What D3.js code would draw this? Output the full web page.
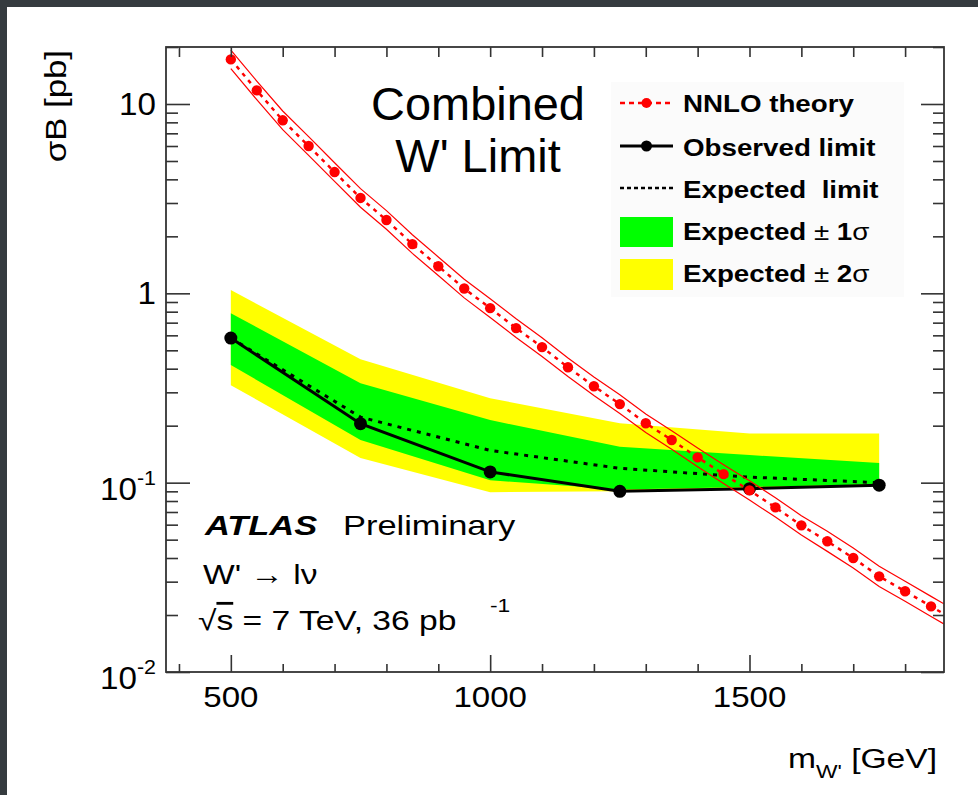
<!DOCTYPE html>
<html><head><meta charset="utf-8">
<script src="https://cdn.jsdelivr.net/npm/d3@7"></script>
<style>
html,body{margin:0;padding:0;background:#fff;}
svg{display:block;font-family:"Liberation Sans",Arial,Helvetica,sans-serif;}
</style></head><body>
<svg id="chart" width="978" height="795"></svg>
<script>
// ---------------- data ----------------
const massPoints   = [500, 750, 1000, 1250, 1500, 1750];
const observedLimit = [0.58, 0.205, 0.114, 0.090, 0.093, 0.097];
const expectedLimit = [0.58, 0.222, 0.148, 0.119, 0.107, 0.100];
const green1SigmaHi = [0.786, 0.335, 0.214, 0.155, 0.140, 0.127];
const green1SigmaLo = [0.418, 0.168, 0.103, 0.092, 0.095, 0.098];
const yellow2SigmaHi = [1.04, 0.449, 0.279, 0.206, 0.182, 0.182];
const yellow2SigmaLo = [0.327, 0.135, 0.089, 0.090, 0.093, 0.097];

const theoryMass = [500, 550, 600, 650, 700, 750, 800, 850, 900, 950, 1000, 1050, 1100, 1150,
  1200, 1250, 1300, 1350, 1400, 1450, 1500, 1550, 1600, 1650, 1700, 1750, 1800, 1850, 1900];
const theoryXsec = [17.2, 11.8, 8.2, 6.0, 4.37, 3.19, 2.44, 1.82, 1.39, 1.06, 0.835, 0.655, 0.52, 0.407,
  0.323, 0.26, 0.206, 0.168, 0.136, 0.111, 0.091, 0.074, 0.0595, 0.049, 0.040, 0.032, 0.0267, 0.0222, 0.0185];
const theoryRelErr = [0.12, 0.12, 0.12, 0.12, 0.12, 0.12, 0.12, 0.12, 0.12, 0.12, 0.12, 0.12, 0.12, 0.12,
  0.12, 0.12, 0.12, 0.12, 0.12, 0.12, 0.125, 0.125, 0.125, 0.13, 0.13, 0.13, 0.13, 0.13, 0.13];
const theoryPointMax = 1850;

const xDomain = [375, 1875];
const yDomain = [0.01, 20];
const xMajorTicks = [500, 1000, 1500];
const xMajorLabels = ["500", "1000", "1500"];
const xMinorTicks = [400, 600, 700, 800, 900, 1100, 1200, 1300, 1400, 1600, 1700, 1800];
const yMajorTicks = [0.01, 0.1, 1, 10];
const yMajorLabels = [["10", "-2"], ["10", "-1"], ["1", ""], ["10", ""]];

const legendLabels = ["NNLO theory", "Observed limit", "Expected  limit", "Expected ± 1σ", "Expected ± 2σ"];

// ---------------- layout ----------------
const W = 978, H = 795;
const frame = {left: 166, top: 47, right: 944, bottom: 672};
const svg = d3.select("#chart");
svg.append("rect").attr("width", W).attr("height", H).attr("fill", "#ffffff");
svg.append("rect").attr("x", 0).attr("y", 0).attr("width", W).attr("height", 7).attr("fill", "#353b3f");
svg.append("rect").attr("x", 0).attr("y", 0).attr("width", 7).attr("height", H).attr("fill", "#353b3f");

const x = d3.scaleLinear().domain(xDomain).range([frame.left, frame.right]);
const y = d3.scaleLog().domain(yDomain).range([frame.bottom, frame.top]);

svg.append("clipPath").attr("id", "clip").append("rect")
  .attr("x", frame.left).attr("y", frame.top)
  .attr("width", frame.right - frame.left).attr("height", frame.bottom - frame.top);

const plot = svg.append("g").attr("clip-path", "url(#clip)");

const bandData = massPoints.map((m, i) => ({
  m, obs: observedLimit[i], exp: expectedLimit[i],
  g0: green1SigmaLo[i], g1: green1SigmaHi[i], y0: yellow2SigmaLo[i], y1: yellow2SigmaHi[i]
}));
const theoryData = theoryMass.map((m, i) => ({
  m, v: theoryXsec[i], up: theoryXsec[i] * (1 + theoryRelErr[i]), dn: theoryXsec[i] / (1 + theoryRelErr[i])
}));

plot.append("path").datum(bandData).attr("fill", "#ffff00")
  .attr("d", d3.area().x(d => x(d.m)).y0(d => y(d.y0)).y1(d => y(d.y1)));
plot.append("path").datum(bandData).attr("fill", "#00ff00")
  .attr("d", d3.area().x(d => x(d.m)).y0(d => y(d.g0)).y1(d => y(d.g1)));

plot.append("path").datum(bandData).attr("fill", "none").attr("stroke", "#000")
  .attr("stroke-width", 3).attr("stroke-dasharray", "4,6")
  .attr("d", d3.line().x(d => x(d.m)).y(d => y(d.exp)));
plot.append("path").datum(bandData).attr("fill", "none").attr("stroke", "#000")
  .attr("stroke-width", 3)
  .attr("d", d3.line().x(d => x(d.m)).y(d => y(d.obs)));
plot.selectAll("circle.obs").data(bandData).join("circle").attr("class", "obs")
  .attr("cx", d => x(d.m)).attr("cy", d => y(d.obs)).attr("r", 6.5).attr("fill", "#000");

// theory band + line
plot.append("path").datum(theoryData).attr("fill", "none").attr("stroke", "#ff0000").attr("stroke-width", 1.2)
  .attr("d", d3.line().x(d => x(d.m)).y(d => y(d.up)));
plot.append("path").datum(theoryData).attr("fill", "none").attr("stroke", "#ff0000").attr("stroke-width", 1.2)
  .attr("d", d3.line().x(d => x(d.m)).y(d => y(d.dn)));
plot.append("path").datum(theoryData).attr("fill", "none").attr("stroke", "#ff0000").attr("stroke-width", 2.5)
  .attr("stroke-dasharray", "4,5")
  .attr("d", d3.line().x(d => x(d.m)).y(d => y(d.v)));
plot.selectAll("circle.th").data(theoryData.filter(d => d.m <= theoryPointMax)).join("circle").attr("class", "th")
  .attr("cx", d => x(d.m)).attr("cy", d => y(d.v)).attr("r", 5.2).attr("fill", "#ff0000");

// ---------------- axes ----------------
const tickColor = "#333";
function styleAxis(g) {
  g.select(".domain").remove();
  g.selectAll(".tick line").attr("stroke", tickColor).attr("stroke-width", 1.6);
  g.selectAll(".tick text").remove();
}
const yMinor = y.ticks().filter(v => !yMajorTicks.some(t => Math.abs(t - v) / t < 1e-6));
svg.append("g").attr("transform", `translate(${frame.left},0)`)
  .call(d3.axisLeft(y).tickValues(yMajorTicks).tickSize(-24)).call(styleAxis);
svg.append("g").attr("transform", `translate(${frame.left},0)`)
  .call(d3.axisLeft(y).tickValues(yMinor).tickSize(-12)).call(styleAxis);
svg.append("g").attr("transform", `translate(${frame.right},0)`)
  .call(d3.axisRight(y).tickValues(yMajorTicks).tickSize(-23)).call(styleAxis);
svg.append("g").attr("transform", `translate(${frame.right},0)`)
  .call(d3.axisRight(y).tickValues(yMinor).tickSize(-11)).call(styleAxis);
svg.append("g").attr("transform", `translate(0,${frame.bottom})`)
  .call(d3.axisBottom(x).tickValues(xMajorTicks).tickSize(-17)).call(styleAxis);
svg.append("g").attr("transform", `translate(0,${frame.bottom})`)
  .call(d3.axisBottom(x).tickValues(xMinorTicks).tickSize(-8)).call(styleAxis);
svg.append("g").attr("transform", `translate(0,${frame.top})`)
  .call(d3.axisTop(x).tickValues(xMajorTicks.concat(xMinorTicks)).tickSize(-10)).call(styleAxis);

svg.append("rect").attr("x", frame.left).attr("y", frame.top)
  .attr("width", frame.right - frame.left).attr("height", frame.bottom - frame.top)
  .attr("fill", "none").attr("stroke", tickColor).attr("stroke-width", 1.8);

function stext(px, py, sx, size, anchor) {
  return svg.append("text")
    .attr("transform", `translate(${px},${py}) scale(${sx},1)`)
    .attr("font-size", size).attr("text-anchor", anchor || "start").attr("fill", "#000");
}

// x tick labels
xMajorTicks.forEach((v, i) => {
  stext(x(v), 707, 1.14, 29, "middle").text(xMajorLabels[i]);
});
// y tick labels
yMajorTicks.forEach((v, i) => {
  const [base, sup] = yMajorLabels[i];
  const off = sup ? 17 : 11;
  const t = stext(156, y(v) + off, 1.07, 31, "end");
  t.append("tspan").text(base);
  if (sup) t.append("tspan").attr("font-size", 20).attr("dy", -15).text(sup);
});

// axis titles
const xt = stext(937, 768, 1.2, 28, "end");
xt.append("tspan").text("m");
xt.append("tspan").attr("font-size", 19).attr("dy", 10).text("W'");
xt.append("tspan").attr("dy", -10).text(" [GeV]");

svg.append("text").attr("transform", "translate(66,50) rotate(-90) scale(1.16,1)")
  .attr("font-size", 30).attr("text-anchor", "end").text("σB [pb]");

// title
stext(478, 120, 1.02, 46, "middle").text("Combined");
stext(478, 172, 1.02, 46, "middle").text("W' Limit");

// ATLAS label
stext(205, 535, 1.23, 28).attr("font-weight", "bold").attr("font-style", "italic").text("ATLAS");
stext(343, 535, 1.23, 28).text("Preliminary");
stext(203, 584, 1.2, 28).text("W' → lν");
const rs = stext(198, 630, 1.2, 28);
rs.append("tspan").text("√");
rs.append("tspan").attr("text-decoration", "overline").text("s");
rs.append("tspan").text(" = 7 TeV, 36 pb");
stext(490, 612, 1.2, 19).text("-1");

// ---------------- legend ----------------
svg.append("rect").attr("x", 611).attr("y", 82).attr("width", 293).attr("height", 215).attr("fill", "#fbfbfb");
const legY = [103, 146, 188, 232, 275];
const legTextY = [111.5, 155.5, 197.5, 240, 282];
const lx0 = 620, lx1 = 673, ltx = 683;
svg.append("line").attr("x1", lx0).attr("x2", lx1).attr("y1", legY[0]).attr("y2", legY[0])
  .attr("stroke", "#ff0000").attr("stroke-width", 2.5).attr("stroke-dasharray", "5,4");
svg.append("circle").attr("cx", (lx0 + lx1) / 2).attr("cy", legY[0]).attr("r", 5).attr("fill", "#ff0000");
svg.append("line").attr("x1", lx0).attr("x2", lx1).attr("y1", legY[1]).attr("y2", legY[1])
  .attr("stroke", "#000").attr("stroke-width", 3);
svg.append("circle").attr("cx", (lx0 + lx1) / 2).attr("cy", legY[1]).attr("r", 5.5).attr("fill", "#000");
svg.append("line").attr("x1", lx0).attr("x2", lx1).attr("y1", legY[2]).attr("y2", legY[2])
  .attr("stroke", "#000").attr("stroke-width", 2.5).attr("stroke-dasharray", "4,3");
svg.append("rect").attr("x", lx0).attr("y", 217).attr("width", lx1 - lx0).attr("height", 30).attr("fill", "#00ff00");
svg.append("rect").attr("x", lx0).attr("y", 259).attr("width", lx1 - lx0).attr("height", 31).attr("fill", "#ffff00");

legendLabels.forEach((lab, i) => {
  const t = stext(ltx, legTextY[i], 1.18, 23.5).attr("font-weight", "bold");
  if (lab.includes("±")) {
    const [a, b] = lab.split("±");
    t.append("tspan").text(a);
    t.append("tspan").attr("font-weight", "normal").text("± ");
    t.append("tspan").text(b.trim().slice(0, 1));
    t.append("tspan").attr("font-weight", "normal").text(b.trim().slice(1));
  } else {
    t.append("tspan").attr("xml:space", "preserve").style("white-space", "pre").text(lab);
  }
});
</script>
</body></html>
